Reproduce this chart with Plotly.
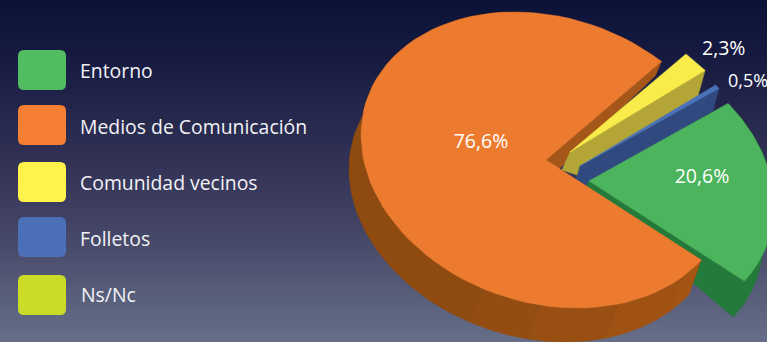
import numpy as np
import plotly.graph_objects as go

# ---- data ----
categories = ["Entorno", "Medios de Comunicación", "Comunidad vecinos", "Folletos", "Ns/Nc"]
values = [20.6, 76.6, 2.3, 0.5, 0.0]

# ---- style ----
W, H = 767, 342
top_colors = ["#4CB45C", "#ED7B2F", "#F9EC4A", "#4A72B8", "#CBDC28"]
wall_colors = ["#247A3A", "#8F4A0F", "#B3A637", "#304A80", "#8A9620"]
inner_wall_colors = ["#247A3A", "#A5571A", "#B3A637", "#304A80", "#8A9620"]
legend_colors = ["#52BC62", "#F58033", "#FFF24A", "#4C70B8", "#CBDC28"]
legend_tops = [50, 105, 162, 217, 275]
legend_h = 40
legend_text_x = [80, 80, 80, 80, 81]
legend_text_y = [73.5, 129.5, 185.5, 241, 297.5]

# projection of the pie disc onto the picture
Cx, Cy = 546, 160
L = np.array([[185.0, 0.0], [24.86, 145.9]])
START_DEG = -41.3
apex_offset = [(43, 21), (0, 0), (24, -8), (34, 6), (0, 0)]
depth_apex = [(-5, 10), (10, 12), (-8, 18), (-4, 14), (0, 0)]
depth_foot = [None, None, (16, 26), (9, 20), None]
depth_rim = [(-11, 36), (-12, 34), (-7, 25), (-6, 22), (0, 0)]
inner_rim = (-6, 14)
orange_facets = [(42, "#A55513"), (67, "#A05212"), (92, "#984F11"), (110, "#944C10")]
wall_end_deg = 262
label_pos = [(702, 178.5, "middle center", 19.5), (481, 143.5, "middle center", 19.5),
             (702, 50.5, "middle right", 19.5), (728, 82.5, "middle right", 18)]

bg_y = [0, 50, 100, 150, 200, 250, 300, 342]
bg_c = ["#0B1238", "#15193F", "#222449", "#2E2F53", "#3C3C5E", "#4A4C6C", "#59607C", "#666E89"]

fig = go.Figure()
# gradient backdrop
fig.add_trace(go.Heatmap(
    x=[0, W], y=np.arange(0, H + 1),
    z=[[yy, yy] for yy in np.arange(0, H + 1)],
    zmin=0, zmax=H, zsmooth="best", showscale=False, hoverinfo="skip",
    colorscale=[[v / H, c] for v, c in zip(bg_y, bg_c)]))


def rim(i, a0, a1, n=80):
    th = np.radians(np.linspace(a0, a1, n))
    return (L @ np.vstack([np.cos(th), np.sin(th)])).T + np.array([Cx + apex_offset[i][0], Cy + apex_offset[i][1]])


def poly(xy, color):
    xy = np.asarray(xy)
    fig.add_trace(go.Scatter(x=xy[:, 0], y=xy[:, 1], mode="lines", fill="toself", fillcolor=color,
                             line=dict(color=color, width=0.5), hoverinfo="skip", showlegend=False))


spans = {}
a = START_DEG
for i, v in enumerate(values):
    spans[i] = (a, a + v * 3.6)
    a += v * 3.6

apex = lambda i: np.array([Cx + apex_offset[i][0], Cy + apex_offset[i][1]], float)


def top(i):
    a0, a1 = spans[i]
    poly(np.vstack([apex(i), rim(i, a0, a1), apex(i)]), top_colors[i])


def radial_wall(i, ang, rim_d, color):
    p = rim(i, ang, ang, 1)[0]
    a_ = apex(i)
    pts = [a_, p, p + rim_d]
    if depth_foot[i] is not None:
        pts.append(a_ + depth_foot[i])
    pts += [a_ + depth_apex[i], a_]
    poly(pts, color)


def rim_wall(i, a0, a1, color):
    r = rim(i, a0, a1)
    poly(np.vstack([r, (r + depth_rim[i])[::-1]]), color)


# inner wall of the big slice, seen through the gap
p_notch = rim(1, spans[1][1], spans[1][1], 1)[0]
poly([apex(1), p_notch, p_notch + inner_rim, apex(1) + depth_apex[1], apex(1)], inner_wall_colors[1])
# small slices
radial_wall(2, spans[2][1], np.array(depth_rim[2]), wall_colors[2])
top(2)
radial_wall(3, spans[3][1], np.array(depth_rim[3]), wall_colors[3])
top(3)
# green slice
radial_wall(0, spans[0][1], np.array(depth_rim[0]), wall_colors[0])
rim_wall(0, spans[0][0], spans[0][1], wall_colors[0])
top(0)
# big slice outer wall with facets
prev = spans[1][0]
for ang, col in orange_facets:
    rim_wall(1, prev, ang, col)
    prev = ang
rim_wall(1, prev, wall_end_deg, wall_colors[1])
top(1)

# percentage labels
for (x, y, pos, size), v in zip(label_pos, values):
    fig.add_trace(go.Scatter(x=[x], y=[y], mode="text", text=[f"{v:.1f}%".replace(".", ",")],
                             textposition=pos, cliponaxis=False, hoverinfo="skip", showlegend=False,
                             textfont=dict(family="Open Sans", size=size, color="white")))

# legend
shapes = []
for yt, c in zip(legend_tops, legend_colors):
    x0, x1, y0, y1, r = 18, 66, yt, yt + legend_h, 6
    path = (f"M{x0+r},{y0} L{x1-r},{y0} Q{x1},{y0} {x1},{y0+r} L{x1},{y1-r} Q{x1},{y1} {x1-r},{y1} "
            f"L{x0+r},{y1} Q{x0},{y1} {x0},{y1-r} L{x0},{y0+r} Q{x0},{y0} {x0+r},{y0} Z")
    shapes.append(dict(type="path", path=path, xref="x", yref="y", fillcolor=c, line=dict(width=0), layer="above"))
for name, x, y in zip(categories, legend_text_x, legend_text_y):
    fig.add_trace(go.Scatter(x=[x], y=[y], mode="text", text=[name], textposition="middle right",
                             hoverinfo="skip", showlegend=False,
                             textfont=dict(family="Open Sans", size=19.4, color="#F2F2F6")))

fig.update_layout(
    width=W, height=H, margin=dict(l=0, r=0, t=0, b=0), shapes=shapes, showlegend=False,
    paper_bgcolor="#0B1238", plot_bgcolor="rgba(0,0,0,0)",
    xaxis=dict(range=[0, W], visible=False, fixedrange=True),
    yaxis=dict(range=[H, 0], visible=False, fixedrange=True))

fig.write_html("out.html", config={"displayModeBar": False},
               post_script="document.body.style.margin='0';document.documentElement.style.overflow='hidden';")
